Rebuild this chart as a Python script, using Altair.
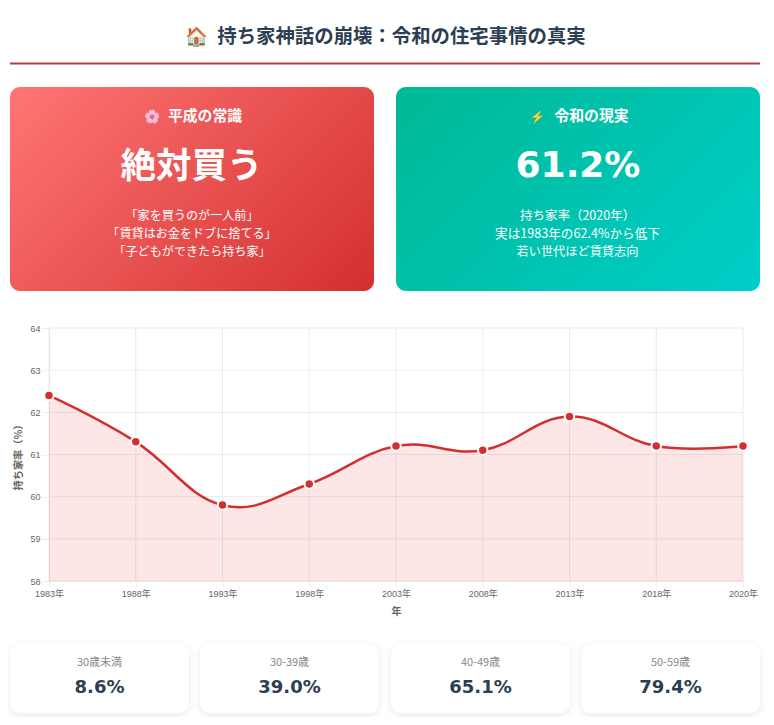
import altair as alt
import pandas as pd

# ---- data ----
years = ["1983年", "1988年", "1993年", "1998年", "2003年", "2008年", "2013年", "2018年", "2020年"]
rates = [62.4, 61.3, 59.8, 60.3, 61.2, 61.1, 61.9, 61.2, 61.2]
y_ticks = [58, 59, 60, 61, 62, 63, 64]
title_icon = "🏠"
title_text = "持ち家神話の崩壊：令和の住宅事情の真実"
left_icon = "🌸"
left_head = "平成の常識"
left_big = "絶対買う"
left_lines = ["「家を買うのが一人前」", "「賃貸はお金をドブに捨てる」", "「子どもができたら持ち家」"]
right_icon = "⚡"
right_head = "令和の現実"
right_big = "61.2%"
right_lines = ["持ち家率（2020年）", "実は1983年の62.4%から低下", "若い世代ほど賃貸志向"]
right_sizes = [12.5, 12.6, 12.2]
age_labels = ["30歳未満", "30-39歳", "40-49歳", "50-59歳"]
age_values = ["8.6%", "39.0%", "65.1%", "79.4%"]

FONT = "'DejaVu Sans', 'Noto Sans CJK JP', 'Noto Color Emoji', sans-serif"
CJK = "'Noto Sans CJK JP', 'Noto Color Emoji', sans-serif"
TICK = "'Liberation Sans', 'Noto Sans CJK JP', sans-serif"
W, H = 758, 709
OX, OY = 8, 8  # page margin


def box(x0, y0, x1, y1, color, radius=0, opacity=1.0):
    return alt.Chart(pd.DataFrame({"a": [0]})).mark_rect(
        color=color, cornerRadius=radius, opacity=opacity
    ).encode(
        x=alt.value(x0 - OX), x2=alt.value(x1 - OX),
        y=alt.value(y0 - OY), y2=alt.value(y1 - OY),
    )


def label(text, x, y, size, color, weight="normal", font=CJK):
    return alt.Chart(pd.DataFrame({"a": [0]})).mark_text(
        text=text, fontSize=size, color=color, fontWeight=weight, font=font,
        align="center", baseline="middle",
    ).encode(x=alt.value(x - OX), y=alt.value(y - OY))


def grad(c0, c1, w, h):
    s = (w + h) / (w * w + h * h)
    a, b = w * s / 2, h * s / 2
    return alt.LinearGradient(
        gradient="linear", x1=0.5 - a, y1=0.5 - b, x2=0.5 + a, y2=0.5 + b,
        stops=[alt.GradientStop(offset=0, color=c0), alt.GradientStop(offset=1, color=c1)],
    )


layers = []
layers.append(label(title_icon, 196.5, 36.5, 18.5, "#2c3e50"))
layers.append(label(title_text, 401.5, 36.5, 19.4, "#2c3e50", "bold"))
layers.append(box(10, 62.5, 760, 64.5, "#b83a3e"))

# hero cards
layers.append(box(10, 87, 374, 291, grad("#ff7675", "#d32f2f", 364, 204), 10))
layers.append(box(396, 87, 760, 291, grad("#00b894", "#00cec9", 364, 204), 10))
layers.append(label(left_icon, 152, 117, 13, "white"))
layers.append(label(left_head, 205, 117, 14.8, "white", "bold"))
layers.append(label(right_icon, 538, 117, 12, "white"))
layers.append(label(right_head, 591.5, 117, 14.8, "white", "bold"))
layers.append(label(left_big, 191.5, 167, 35.5, "white", "bold"))
layers.append(label(right_big, 578, 166, 36, "white", "bold", FONT))
for i, (l, r, rs) in enumerate(zip(left_lines, right_lines, right_sizes)):
    layers.append(label(l, 192, 215.5 + i * 18, 12.1, "white"))
    layers.append(label(r, 577.5, 215.5 + i * 18, rs, "white"))

# line chart
df = pd.DataFrame({"year": years, "rate": rates})
x_enc = alt.X(
    "year:N", sort=years,
    scale=alt.Scale(type="point", domain=years, range=[49 - OX, 743 - OX], padding=0),
    axis=alt.Axis(
        title="年", offset=-(H - (581 - OY)), labelAngle=0, labelFont=TICK, labelFontSize=9,
        labelColor="#666666", titleFont=CJK, titleFontSize=10, titleFontWeight="bold",
        titleColor="#666666", tickColor="#eeeeee", tickSize=6, domainColor="#e2e2e2",
        labelPadding=2, titlePadding=8, grid=False,
    ),
)
y_enc = alt.Y(
    "rate:Q",
    scale=alt.Scale(domain=[58, 64], range=[581 - OY, 328 - OY], nice=False, zero=False),
    axis=alt.Axis(
        title="持ち家率（%）", offset=-(49 - OX), values=y_ticks, labelFont=TICK, labelFontSize=9,
        labelColor="#666666", titleFont=CJK, titleFontSize=10.2, titleFontWeight="bold",
        titleColor="#666666", tickColor="#eeeeee", tickSize=8, domainColor="#e2e2e2",
        labelPadding=1, titlePadding=6, grid=False,
    ),
)
y_grid = pd.DataFrame({"rate": y_ticks})
layers.append(
    alt.Chart(y_grid).mark_rule(color="#ebebeb", strokeWidth=1).encode(
        y=y_enc, x=alt.value(49 - OX), x2=alt.value(743 - OX))
)
layers.append(
    alt.Chart(df).mark_rule(color="#ebebeb", strokeWidth=1).encode(
        x=x_enc, y=alt.value(328 - OY), y2=alt.value(581 - OY))
)
tension = alt.ExprRef("-0.2")
layers.append(
    alt.Chart(df).mark_area(color="#e53935", opacity=0.12, interpolate="cardinal", tension=tension).encode(
        x=x_enc, y=y_enc, y2=alt.datum(58))
)
layers.append(
    alt.Chart(df).mark_line(color="#d32f2f", strokeWidth=2.5, interpolate="cardinal", tension=tension).encode(
        x=x_enc, y=y_enc)
)
layers.append(
    alt.Chart(df).mark_point(filled=True, fill="#d32f2f", stroke="white", strokeWidth=2, size=90, opacity=1).encode(
        x=x_enc, y=y_enc)
)

# stat tiles
tile_x = [(10, 189), (200, 379), (391, 570), (581, 760)]
for (x0, x1), lab, val in zip(tile_x, age_labels, age_values):
    for g, op in [(6, 0.006), (4, 0.008), (2, 0.012), (1, 0.015)]:
        layers.append(box(x0 - g, 644 - g + 2, x1 + g, 713 + g + 2, "#000000", 10 + g, op))
    layers.append(box(x0, 644, x1, 713, "white", 10))
    cx = (x0 + x1) / 2
    layers.append(label(lab, cx, 662.5, 11, "#888888"))
    layers.append(label(val, cx, 688, 18, "#2c3e50", "bold", FONT))

chart = alt.layer(*layers).properties(
    width=W, height=H, padding=0, autosize=alt.AutoSizeParams(type="none")
).configure_view(stroke=None)

chart.save("out.html", embed_options={"renderer": "svg", "actions": False})
